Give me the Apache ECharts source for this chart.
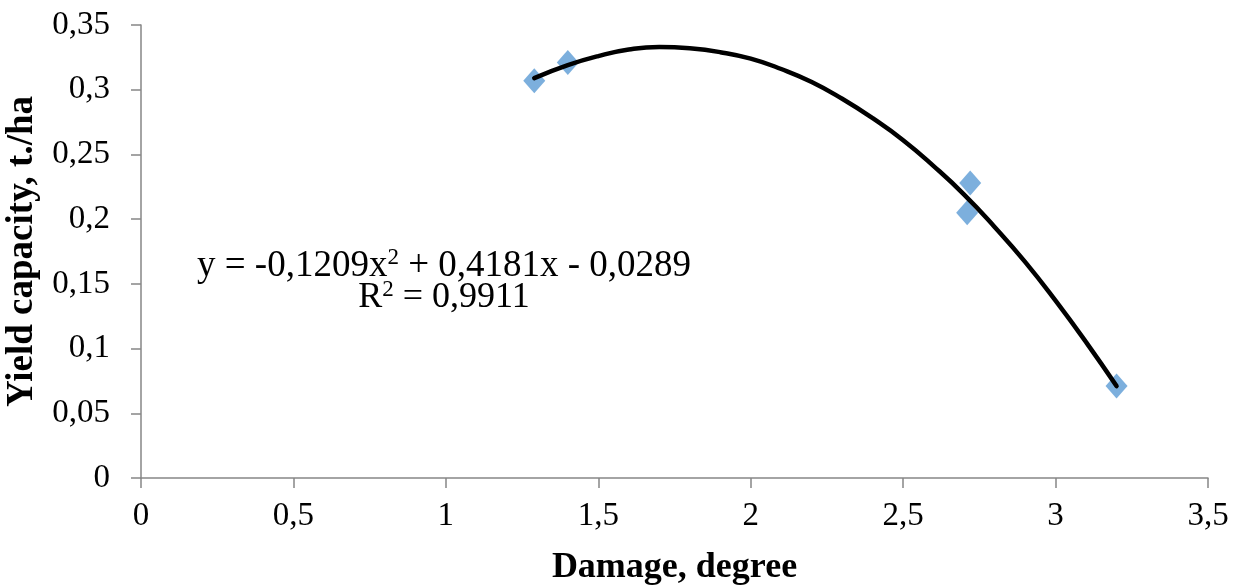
<!DOCTYPE html>
<html>
<head>
<meta charset="utf-8">
<script src="https://cdn.jsdelivr.net/npm/echarts@6/dist/echarts.min.js"></script>
<style>
html,body{margin:0;padding:0;background:#fff;}
#chart{width:1241px;height:587px;}
</style>
</head>
<body>
<div id="chart"></div>
<script>
// Observed points (damage degree, yield t/ha)
const pointX = [1.29, 1.40, 2.71, 2.72, 3.20];
const pointY = [0.307, 0.321, 0.205, 0.228, 0.071];
// Trendline
const trendX = [1.29, 1.4, 1.5, 1.6, 1.7, 1.8, 1.9, 2.0, 2.1, 2.2, 2.3, 2.4, 2.5, 2.6, 2.7, 2.8, 2.9, 3.0, 3.1, 3.2];
const trendY = [0.309, 0.319, 0.326, 0.331, 0.333, 0.332, 0.329, 0.324, 0.316, 0.306, 0.293, 0.278, 0.261, 0.241, 0.219, 0.194, 0.167, 0.137, 0.105, 0.071];
const xTitle = 'Damage, degree';
const yTitle = 'Yield capacity, t./ha';
const eqLine1 = 'y = -0,1209x{sup|2} + 0,4181x - 0,0289';
const eqLine2 = 'R{sup|2} = 0,9911';

const fmt = v => String(v).replace('.', ',');
const chart = echarts.init(document.getElementById('chart'));
const serif = '"Liberation Serif", "Times New Roman", serif';
chart.setOption({
  animation: false,
  grid: {left: 141, right: 33, top: 25, bottom: 109, containLabel: false, outerBoundsMode: 'none'},
  xAxis: {
    type: 'value', min: 0, max: 3.5, interval: 0.5,
    name: xTitle, nameLocation: 'middle', nameGap: 72,
    nameTextStyle: {fontFamily: serif, fontSize: 36, fontWeight: 'bold', color: '#000'},
    axisLine: {show: true, lineStyle: {color: '#868686', width: 1.5}},
    axisTick: {show: true, length: 10, lineStyle: {color: '#868686', width: 1.5}},
    axisLabel: {fontFamily: serif, fontSize: 33, color: '#000', margin: 22, formatter: fmt},
    splitLine: {show: false}
  },
  yAxis: {
    type: 'value', min: 0, max: 0.35, interval: 0.05,
    name: yTitle, nameLocation: 'middle', nameGap: 98, nameRotate: 90,
    nameTextStyle: {fontFamily: serif, fontSize: 37, fontWeight: 'bold', color: '#000'},
    axisLine: {show: true, lineStyle: {color: '#868686', width: 1.5}},
    axisTick: {show: true, length: 10, lineStyle: {color: '#868686', width: 1.5}},
    axisLabel: {fontFamily: serif, fontSize: 33, color: '#000', margin: 31, formatter: fmt},
    splitLine: {show: false}
  },
  series: [
    {
      type: 'scatter',
      data: pointX.map((x, i) => [x, pointY[i]]),
      symbol: 'diamond', symbolSize: [22, 25],
      itemStyle: {color: '#5B9BD5'},
      z: 2
    },
    {
      type: 'line',
      data: trendX.map((x, i) => [x, trendY[i]]),
      smooth: true, showSymbol: false, symbol: 'none',
      lineStyle: {color: '#000', width: 4.5, cap: 'round'},
      z: 3
    }
  ],
  graphic: [
    {
      type: 'text', x: 444, y: 266,
      style: {
        text: eqLine1, fontFamily: serif, fontSize: 37, fill: '#000',
        align: 'center', verticalAlign: 'middle',
        rich: {sup: {fontFamily: serif, fontSize: 23, padding: [0,0,16,0]}}
      }
    },
    {
      type: 'text', x: 444, y: 298,
      style: {
        text: eqLine2, fontFamily: serif, fontSize: 36, fill: '#000',
        align: 'center', verticalAlign: 'middle',
        rich: {sup: {fontFamily: serif, fontSize: 23, padding: [0,0,16,0]}}
      }
    }
  ]
});
</script>
</body>
</html>
